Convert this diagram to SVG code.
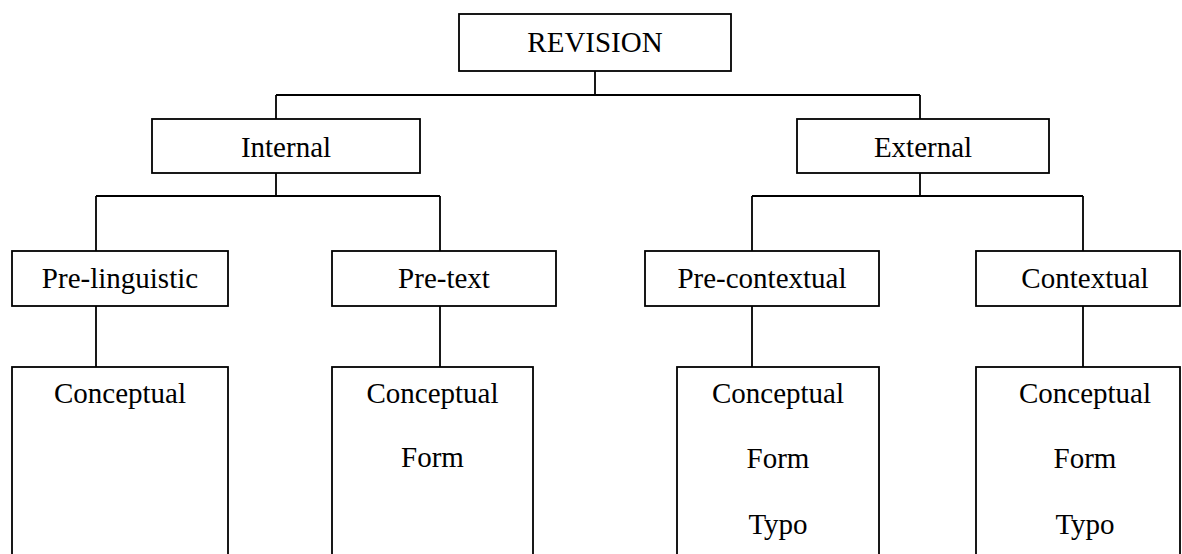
<svg xmlns="http://www.w3.org/2000/svg" width="1182" height="554" viewBox="0 0 1182 554">
<style>
.box{fill:#fff;stroke:#000;stroke-width:1.8}
.ln{fill:none;stroke:#000;stroke-width:1.8}
text{font-family:"Liberation Serif","Times New Roman",serif;font-size:29px;fill:#000;text-anchor:middle}
</style>
<rect width="1182" height="554" fill="#fff"/>
<g id="connectors">
<path class="ln" d="M595 71V95M276 95H920M276 95V119M920 95V119"/>
<path class="ln" d="M276 173V196M96 196H440M96 196V251M440 196V251"/>
<path class="ln" d="M920 173V196M752 196H1083M752 196V251M1083 196V251"/>
<path class="ln" d="M96 306V367M440 306V367M752 306V367M1083 306V367"/>
</g>
<g id="revision"><rect class="box" x="459" y="14" width="272" height="57"/><text x="595" y="52">REVISION</text></g>
<g id="internal"><rect class="box" x="152" y="119" width="268" height="54"/><text x="286" y="157">Internal</text></g>
<g id="external"><rect class="box" x="797" y="119" width="252" height="54"/><text x="923" y="157">External</text></g>
<g id="pre-linguistic"><rect class="box" x="12" y="251" width="216" height="55"/><text x="120" y="288">Pre-linguistic</text></g>
<g id="pre-text"><rect class="box" x="332" y="251" width="224" height="55"/><text x="444" y="288">Pre-text</text></g>
<g id="pre-contextual"><rect class="box" x="645" y="251" width="234" height="55"/><text x="762" y="288">Pre-contextual</text></g>
<g id="contextual"><rect class="box" x="976" y="251" width="204" height="55"/><text x="1085" y="288">Contextual</text></g>
<g id="leaf1"><rect class="box" x="12" y="367" width="216" height="200"/><text x="120" y="403">Conceptual</text></g>
<g id="leaf2"><rect class="box" x="332" y="367" width="201" height="200"/><text x="432.5" y="403">Conceptual</text><text x="432.5" y="467">Form</text></g>
<g id="leaf3"><rect class="box" x="677" y="367" width="202" height="200"/><text x="778" y="403">Conceptual</text><text x="778" y="468">Form</text><text x="778" y="534">Typo</text></g>
<g id="leaf4"><rect class="box" x="976" y="367" width="204" height="200"/><text x="1085" y="403">Conceptual</text><text x="1085" y="468">Form</text><text x="1085" y="534">Typo</text></g>
</svg>
